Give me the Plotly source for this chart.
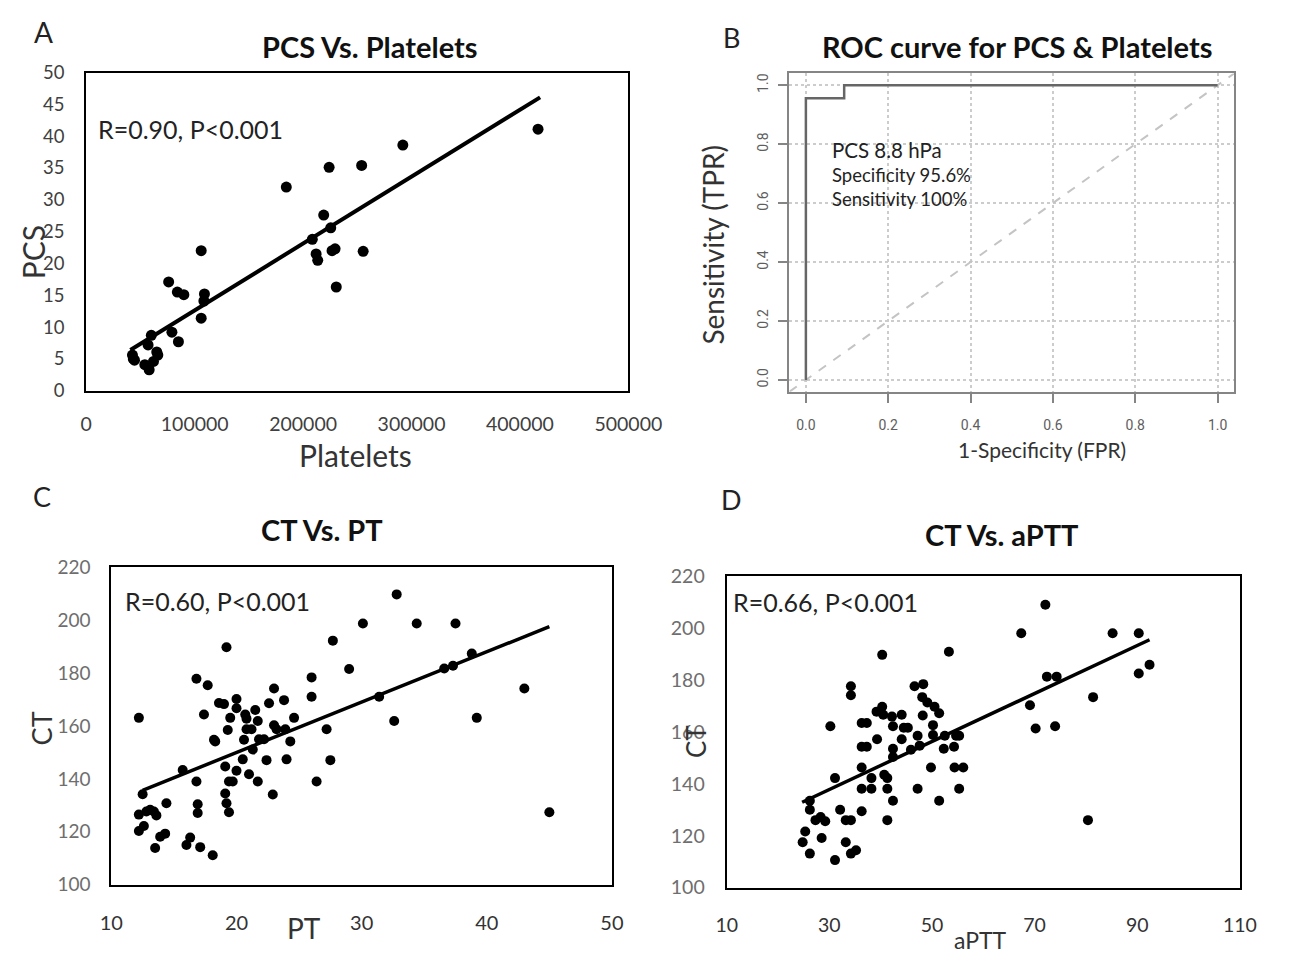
import plotly.graph_objects as go

W, H = 1297, 964
def fx(p): return p / W
def fy(p): return 1 - p / H

FONT = "Lato, Open Sans, sans-serif"

# ---------------- Panel A data ----------------
platelets = [42600, 43400, 44500, 54000, 57000, 58000, 60000, 62000, 65000, 66000,
             76000, 79000, 84000, 85000, 90000, 106000, 106000, 108500, 109000,
             184500, 208500, 212000, 213500, 219000, 224000, 225500, 226700, 229500,
             230600, 254000, 255400, 292000, 416700]
pcs = [5.6, 5.0, 4.8, 4.1, 7.2, 3.3, 8.7, 4.6, 6.1, 5.6,
       17.1, 9.2, 15.5, 7.7, 15.1, 22.0, 11.4, 14.1, 15.2,
       32.0, 23.8, 21.5, 20.5, 27.6, 35.1, 25.6, 22.0, 22.3,
       16.3, 35.4, 21.9, 38.6, 41.1]
pcs_fit_x = [40700, 418600]
pcs_fit_y = [6.4, 46.1]

# ---------------- Panel B data ----------------
roc_fpr = [0.0, 0.0, 0.093, 0.093, 1.0]
roc_tpr = [0.0, 0.956, 0.956, 1.0, 1.0]
ref_line = [-0.04, 1.04]
roc_ticks = [0.0, 0.2, 0.4, 0.6, 0.8, 1.0]
roc_ticktext = ["0.0", "0.2", "0.4", "0.6", "0.8", "1.0"]

# ---------------- Panel C data ----------------
pt = [12.2, 12.5, 12.2, 12.2, 12.6, 12.8, 13.1, 13.4, 13.6, 13.5, 13.9, 14.3, 14.4,
      15.7, 16.0, 16.3, 16.8, 16.8, 16.9, 16.9, 17.1, 17.4, 17.7, 18.1, 18.2, 18.3,
      18.6, 19.0, 19.1, 19.1, 19.2, 19.2, 19.3, 19.5, 19.4, 19.4, 19.7, 20.0, 20.0,
      20.0, 20.5, 20.6, 20.7, 20.8, 20.8, 21.0, 21.2, 21.3, 21.5, 21.7, 21.7, 21.8,
      22.2, 22.4, 22.6, 22.9, 23.0, 23.0, 23.2, 23.8, 23.9, 24.0, 24.3, 24.6, 26.0,
      26.0, 26.4, 27.2, 27.5, 27.7, 29.0, 30.1, 31.4, 32.6, 32.8, 34.4, 36.6, 37.3,
      37.5, 38.8, 39.2, 43.0, 45.0]
ct_pt = [163.1, 134.2, 126.5, 120.3, 122.2, 127.7, 128.3, 127.7, 126.2, 113.9, 118.1,
         119.3, 130.8, 143.4, 115.0, 117.8, 177.9, 139.0, 130.4, 127.1, 114.2, 164.4,
         175.4, 111.1, 154.8, 154.2, 168.7, 168.3, 144.7, 134.5, 130.8, 189.8, 158.5,
         163.1, 127.4, 139.0, 139.0, 170.2, 166.7, 143.1, 147.4, 154.8, 164.4, 162.8,
         158.8, 141.8, 158.8, 151.1, 166.1, 161.9, 139.0, 155.0, 155.0, 147.1, 168.6,
         134.1, 174.2, 160.3, 158.8, 169.8, 158.8, 147.4, 154.2, 163.1, 178.4, 171.1,
         139.0, 158.8, 147.1, 192.3, 181.6, 198.8, 171.1, 161.9, 209.8, 198.8, 181.8,
         182.8, 198.8, 187.4, 163.1, 174.2, 127.4]
pt_fit_x = [12.5, 45.0]
pt_fit_y = [135.7, 197.6]

# ---------------- Panel D data ----------------
aptt = [24.8, 25.3, 26.2, 26.2, 26.2, 27.3, 28.3, 28.5, 29.2, 30.2, 31.1, 31.1, 32.1,
        33.2, 33.2, 34.2, 34.2, 34.2, 34.2, 35.2, 36.3, 37.3, 36.3, 37.3, 36.3, 36.3,
        36.3, 38.2, 38.2, 39.2, 39.3, 40.3, 40.3, 40.5, 40.7, 41.3, 41.3, 41.3, 42.2,
        42.4, 42.4, 42.4, 42.4, 44.1, 44.1, 44.5, 45.3, 45.9, 46.6, 47.2, 47.2, 47.6,
        48.1, 48.3, 48.2, 49.1, 49.8, 50.2, 50.2, 50.5, 51.4, 51.4, 52.3, 52.5, 53.3,
        54.3, 54.4, 54.7, 55.3, 55.3, 56.1, 67.4, 69.1, 70.2, 72.1, 72.4, 74.3, 74.0,
        80.4, 81.4, 85.2, 90.3, 90.3, 92.4]
ct_aptt = [117.5, 121.6, 133.5, 130.0, 113.1, 126.0, 127.2, 119.1, 125.6, 162.2, 142.2,
           110.6, 130.0, 126.0, 117.5, 126.0, 113.1, 177.6, 174.1, 114.4, 163.4, 163.4,
           154.3, 154.3, 146.3, 138.1, 129.4, 142.2, 138.1, 167.8, 157.2, 189.7, 169.7,
           166.6, 143.5, 142.2, 138.1, 126.0, 165.9, 162.2, 153.5, 150.3, 133.5, 166.6,
           157.2, 161.6, 161.6, 153.1, 177.6, 158.5, 138.1, 154.7, 173.4, 178.4, 166.3,
           171.3, 146.3, 162.6, 158.8, 169.7, 167.2, 133.5, 153.5, 158.5, 190.9, 154.3,
           146.3, 158.5, 158.5, 138.1, 146.3, 198.0, 170.3, 161.3, 209.0, 181.3, 181.3,
           162.2, 126.0, 173.4, 198.0, 198.0, 182.5, 185.9]
aptt_fit_x = [24.7, 92.4]
aptt_fit_y = [132.9, 195.5]

fig = go.Figure()

# Panel A
fig.add_trace(go.Scatter(x=platelets, y=pcs, mode="markers",
                         marker=dict(color="black", size=11), xaxis="x", yaxis="y",
                         showlegend=False))
fig.add_trace(go.Scatter(x=pcs_fit_x, y=pcs_fit_y, mode="lines",
                         line=dict(color="black", width=4), xaxis="x", yaxis="y",
                         showlegend=False))
# Panel B
fig.add_trace(go.Scatter(x=ref_line, y=ref_line, mode="lines",
                         line=dict(color="#c4c4c4", width=2, dash="dash"),
                         xaxis="x2", yaxis="y2", showlegend=False))
fig.add_trace(go.Scatter(x=roc_fpr, y=roc_tpr, mode="lines",
                         line=dict(color="#666666", width=2.5),
                         xaxis="x2", yaxis="y2", showlegend=False))
# Panel C
fig.add_trace(go.Scatter(x=pt, y=ct_pt, mode="markers",
                         marker=dict(color="black", size=10), xaxis="x3", yaxis="y3",
                         showlegend=False))
fig.add_trace(go.Scatter(x=pt_fit_x, y=pt_fit_y, mode="lines",
                         line=dict(color="black", width=3.5), xaxis="x3", yaxis="y3",
                         showlegend=False))
# Panel D
fig.add_trace(go.Scatter(x=aptt, y=ct_aptt, mode="markers",
                         marker=dict(color="black", size=10), xaxis="x4", yaxis="y4",
                         showlegend=False))
fig.add_trace(go.Scatter(x=aptt_fit_x, y=aptt_fit_y, mode="lines",
                         line=dict(color="black", width=3.5), xaxis="x4", yaxis="y4",
                         showlegend=False))

frame = dict(showline=True, linecolor="black", linewidth=2.2, mirror=True,
             showgrid=False, zeroline=False, ticks="")
roc_axis = dict(tickvals=roc_ticks, ticktext=roc_ticktext,
                tickfont=dict(size=14, color="#5e5e5e",
                              family="Liberation Sans Narrow, Roboto, Liberation Sans"),
                showline=True, linecolor="#858585", linewidth=2, mirror=True,
                showgrid=True, gridcolor="#cccccc", griddash="dot", gridwidth=1.5,
                zeroline=False, ticks="outside", ticklen=9, tickwidth=2,
                tickcolor="#858585")

fig.update_layout(
    width=W, height=H, margin=dict(l=0, r=0, t=0, b=0),
    paper_bgcolor="white", plot_bgcolor="white",
    font=dict(family=FONT, color="#333333"),
    xaxis=dict(domain=[fx(77), fx(639)], range=[0, 500000], anchor="y",
               tickvals=[0, 100000, 200000, 300000, 400000, 500000],
               ticktext=["0", "100000", "200000", "300000", "400000", "500000"],
               tickfont=dict(size=19.5, color="#404040"), ticklabelstandoff=15, **frame),
    yaxis=dict(domain=[fy(388), fy(62)], range=[0, 50], anchor="x",
               dtick=5, tickfont=dict(size=18.5, color="#404040"), ticklabelstandoff=16,
               **frame),
    xaxis2=dict(domain=[fx(806), fx(1267)], range=[-0.04, 1.04], anchor="y2",
                ticklabelstandoff=10, **roc_axis),
    yaxis2=dict(domain=[fy(389), fy(63)], range=[-0.04, 1.04], anchor="x2",
                tickangle=-90, ticklabelstandoff=5, **roc_axis),
    xaxis3=dict(domain=[fx(103), fx(622)], range=[10, 50], anchor="y3",
                tick0=10, dtick=10, tickfont=dict(size=20, color="#333333"),
                ticklabelstandoff=19, **frame),
    yaxis3=dict(domain=[fy(894), fy(569)], range=[100, 220], anchor="x3",
                tick0=100, dtick=20, tickfont=dict(size=19, color="#6e6e6e"),
                ticklabelstandoff=15, **frame),
    xaxis4=dict(domain=[fx(741), fx(1273)], range=[10, 110], anchor="y4",
                tick0=10, dtick=20, tickfont=dict(size=19.5, color="#333333"),
                ticklabelstandoff=19, **frame),
    yaxis4=dict(domain=[fy(897), fy(578)], range=[100, 220], anchor="x4",
                tick0=100, dtick=20, tickfont=dict(size=19.5, color="#6e6e6e"),
                ticklabelstandoff=16, **frame),
)

def ann(text, x, y, size, bold=False, color="#222222", angle=0, xanchor="center"):
    t = f"<b>{text}</b>" if bold else text
    fig.add_annotation(text=t, x=fx(x), y=fy(y), xref="paper", yref="paper",
                       showarrow=False, xanchor=xanchor, yanchor="middle",
                       textangle=angle, font=dict(size=size, color=color, family=FONT))

# panel letters
ann("A", 33, 21, 28)
ann("B", 746, 26, 27)
ann("C", 31, 496, 27)
ann("D", 746, 499, 27)

# titles
ann("PCS Vs. Platelets", 371, 35, 29, bold=True, color="#111111")
ann("ROC curve for PCS &amp; Platelets", 1042, 35, 29, bold=True, color="#111111")
ann("CT Vs. PT", 321, 530, 29, bold=True, color="#111111")
ann("CT Vs. aPTT", 1026, 535, 29, bold=True, color="#111111")

# axis titles
ann("Platelets", 356, 454, 30, color="#333333")
ann("PCS", 22, 246, 30, angle=-90, color="#333333")
ann("Sensitivity (TPR)", 727, 238, 28, angle=-90, color="#333333")
ann("1-Specificity (FPR)", 1068, 448, 21, color="#333333")
ann("PT", 303, 938, 28, color="#333333")
ann("CT", 31, 734, 27, angle=-90, color="#333333")
ann("aPTT", 1004, 951, 23, color="#333333")
ann("CT", 709, 747, 26, angle=-90, color="#333333")

# stats text
ann("R=0.90, P<0.001", 87, 120, 25, xanchor="left")
ann("R=0.60, P<0.001", 115, 603, 25, xanchor="left")
ann("R=0.66, P<0.001", 745, 604, 25, xanchor="left")
ann("PCS 8.8 hPa", 848, 141, 20.5, xanchor="left")
ann("Specificity 95.6%", 848, 167, 18.5, xanchor="left")
ann("Sensitivity 100%", 848, 192, 18.5, xanchor="left")

fig.write_html("out.html")
